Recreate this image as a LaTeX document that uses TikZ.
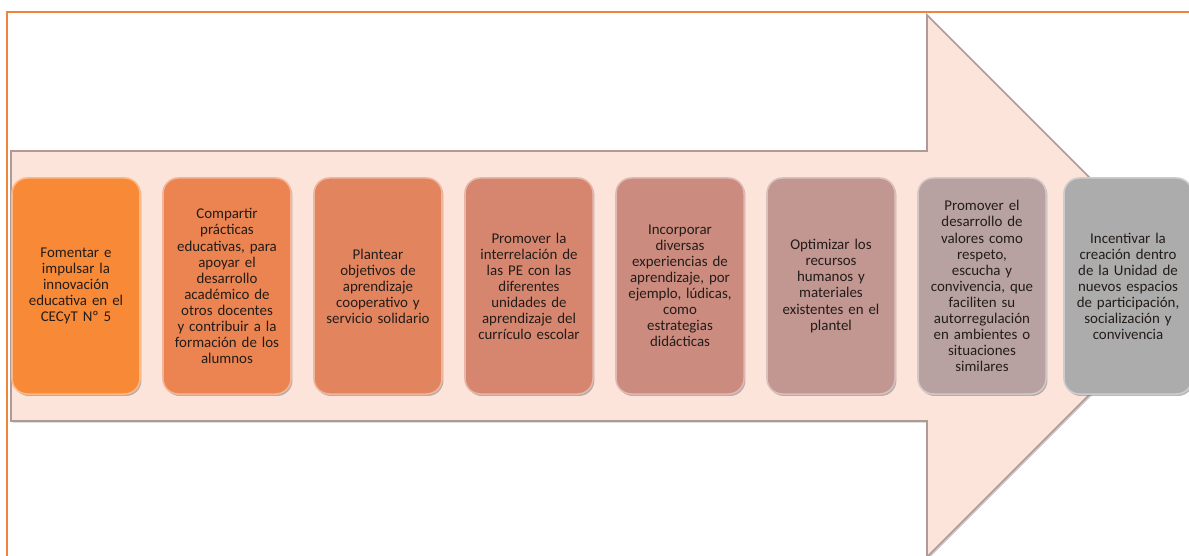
\documentclass[tikz,border=0pt]{standalone}
\usepackage{fontspec}
\setmainfont{Carlito}
\usepackage{tikz}
\usetikzlibrary{shadows}
\definecolor{frameor}{HTML}{EE853A}
\definecolor{arrowfill}{HTML}{FDE4DA}
\definecolor{arrowline}{HTML}{B09A96}
\definecolor{txtdark}{HTML}{231C19}
\definecolor{cA}{HTML}{F88A37}
\definecolor{cB}{HTML}{EB8450}
\definecolor{cC}{HTML}{E2855F}
\definecolor{cD}{HTML}{D6866F}
\definecolor{cE}{HTML}{CC8B7F}
\definecolor{cF}{HTML}{C29691}
\definecolor{cG}{HTML}{B8A2A1}
\definecolor{cH}{HTML}{ACACAC}

\begin{document}
\begin{tikzpicture}[
    x=0.025cm, y=-0.025cm,
    objbox/.style={
        fill=#1, draw=#1!60!white, rounded corners=11pt,
        line width=1.1pt, minimum width=3.2cm, minimum height=5.4cm,
        text width=3.0cm, align=center, inner sep=1pt,
        font=\fontsize{10.6}{11.4}\selectfont, text=txtdark,
        drop shadow={shadow xshift=1pt, shadow yshift=-1.4pt, opacity=0.55}
    },
    bigarrow/.style={
        fill=arrowfill, draw=arrowline, line width=1.1pt,
        drop shadow={shadow xshift=1.2pt, shadow yshift=-1.2pt, opacity=0.4}
    },
    frameline/.style={draw=frameor, line width=1.8pt}
]
\useasboundingbox (0,0) rectangle (1189,556);
\clip (0,0) rectangle (1189,556);
\fill[white] (0,0) rectangle (1189,556);

% --- Orange frame ---
\draw[frameline] (7,560) -- (7,12) -- (1195,12);

% --- Big arrow ---
\draw[bigarrow] (11,151) -- (927,151) -- (927,15) -- (1198,286)
    -- (927,557) -- (927,421) -- (11,421) -- cycle;

% --- Objective boxes ---
\node[objbox=cA] (obj1) at (76,286) {%
    Fomentar e\\ impulsar la\\ innovación\\ educativa en el\\ CECyT Nº 5};
\node[objbox=cB] (obj2) at (227,286) {%
    Compartir\\ prácticas\\ educativas, para\\ apoyar el\\ desarrollo\\
    académico de\\ otros docentes\\ y contribuir a la\\ formación de los\\ alumnos};
\node[objbox=cC] (obj3) at (378,286) {%
    Plantear\\ objetivos de\\ aprendizaje\\ cooperativo y\\ servicio solidario};
\node[objbox=cD] (obj4) at (529,286) {%
    Promover la\\ interrelación de\\ las PE con las\\ diferentes\\ unidades de\\
    aprendizaje del\\ currículo escolar};
\node[objbox=cE] (obj5) at (680,286) {%
    Incorporar\\ diversas\\ experiencias de\\ aprendizaje, por\\ ejemplo, lúdicas,\\
    como\\ estrategias\\ didácticas};
\node[objbox=cF] (obj6) at (831,286) {%
    Optimizar los\\ recursos\\ humanos y\\ materiales\\ existentes en el\\ plantel};
\node[objbox=cG] (obj7) at (982,286) {%
    Promover el\\ desarrollo de\\ valores como\\ respeto,\\ escucha y\\
    convivencia, que\\ faciliten su\\ autorregulación\\ en ambientes o\\
    situaciones\\ similares};
\node[objbox=cH] (obj8) at (1128,286) {%
    Incentivar la\\ creación dentro\\ de la Unidad de\\ nuevos espacios\\
    de participación,\\ socialización y\\ convivencia};

\end{tikzpicture}
\end{document}
